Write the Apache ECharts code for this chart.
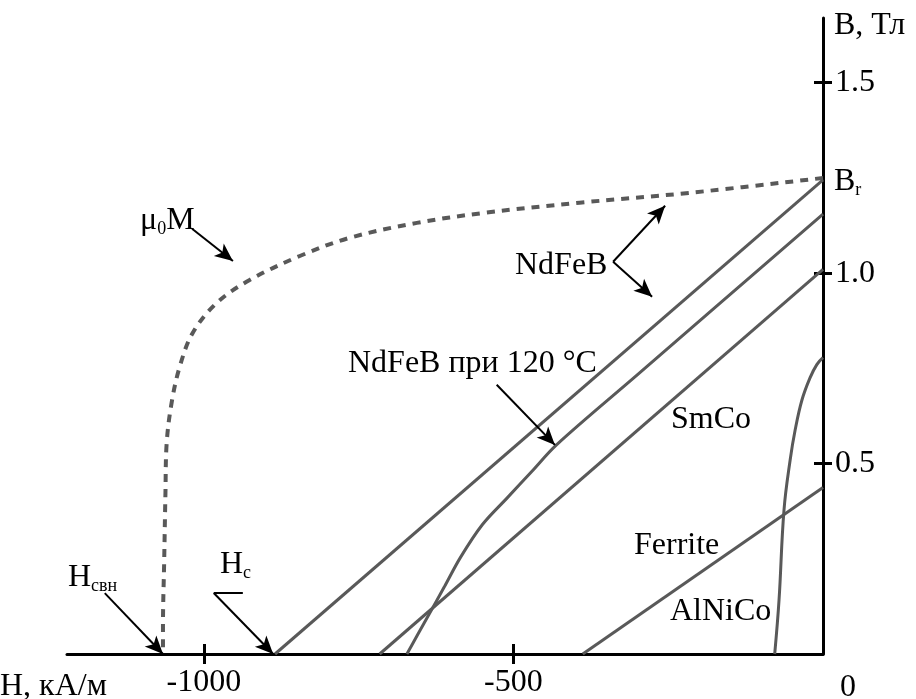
<!DOCTYPE html>
<html>
<head>
<meta charset="utf-8">
<script src="https://cdn.jsdelivr.net/npm/echarts@6/dist/echarts.min.js"></script>
<style>
html,body{margin:0;padding:0;background:#fff;}
#c{width:916px;height:699px;}
</style>
</head>
<body>
<div id="c"></div>
<script>
// ---- data (H in kA/m, B in T) ----
const H_TICKS = [-1000, -500];
const B_TICKS = [0.5, 1.0, 1.5];
const mu0M = [[0,1.25],[-215,1.211],[-393,1.185],[-549,1.158],[-656,1.132],[-764,1.093],[-845,1.045],[-926,0.982],[-979,0.922],[-1018,0.843],[-1039,0.754],[-1052,0.66],[-1060,0.554],[-1062,0.423],[-1064,0.247],[-1066,0.071],[-1066,0]];
const ndfeb = [[-885,0],[0,1.245]];
const ndfeb120 = [[-672,0],[-655,0.05],[-636,0.105],[-612,0.175],[-585,0.255],[-550,0.34],[-510,0.41],[-470,0.48],[-430,0.55],[-300,0.733],[0,1.155]];
const smco = [[-716,0],[0,1.01]];
const ferrite = [[-388,0],[0,0.437]];
const alnico = [[-78,0],[-71,0.142],[-63,0.378],[-53,0.51],[-45,0.588],[-34,0.667],[-21,0.725],[-10,0.76],[0,0.778]];
// annotation arrows: [from, to]
const arrowMu = [[-1019,1.1165],[-953,1.032]];
const arrowNdUp = [[-339,1.03],[-255,1.177]];
const arrowNdDown = [[-339,1.03],[-276,0.938]];
const arrow120 = [[-527,0.707],[-433,0.549]];
const arrowHci = [[-1160,0.16],[-1066,0]];
const barHc = [[-984,0.16],[-937,0.16]];
const arrowHc = [[-984,0.16],[-888,0]];

const FONT = 'Liberation Serif';
const FS = 32;
const chart = echarts.init(document.getElementById('c'), null, {renderer:'canvas'});
const curveColor = '#595959';

function arrow(seg){
  return [{coord:seg[0], symbol:'none'},{coord:seg[1], symbol:'arrow'}];
}
function plain(seg){
  return [{coord:seg[0], symbol:'none'},{coord:seg[1], symbol:'none'}];
}
function curve(name, data, smooth, extra){
  return Object.assign({
    name, type:'line', data, smooth, symbol:'none', silent:true, animation:false,
    lineStyle:{color:curveColor, width:3}, xAxisIndex:0, yAxisIndex:0
  }, extra||{});
}
function txt(x, y, rich, text, align){
  return {type:'text', x, y, silent:true, style:{text, rich, textAlign:align||'left', textVerticalAlign:'middle', fill:'#000', font:FS+'px "'+FONT+'"'}};
}
const mainS = {fontSize:FS, fontFamily:FONT, color:'#000', lineHeight:34, verticalAlign:'middle'};
const subS = {fontSize:18, fontFamily:FONT, color:'#000', lineHeight:18, verticalAlign:'bottom'};

const option = {
  backgroundColor:'#fff',
  animation:false,
  grid:{left:67, right:93, top:18, bottom:45, containLabel:false, outerBoundsMode:'none'},
  xAxis:[
    {type:'value', min:-1221, max:0, position:'bottom',
      axisLine:{show:true, onZero:false, lineStyle:{color:'#000', width:3}},
      axisTick:{show:true, length:10, lineStyle:{color:'#000', width:3}, customValues:H_TICKS},
      axisLabel:{show:true, customValues:H_TICKS, fontSize:FS, fontFamily:FONT, color:'#000', margin:13, formatter:v=>String(v)},
      splitLine:{show:false}},
    {type:'value', min:-1221, max:0, position:'bottom',
      axisLine:{show:false, onZero:false},
      axisTick:{show:true, inside:true, length:10, lineStyle:{color:'#000', width:3}, customValues:H_TICKS},
      axisLabel:{show:false}, splitLine:{show:false}}
  ],
  yAxis:[
    {type:'value', min:0, max:1.67, position:'right',
      axisLine:{show:true, onZero:false, lineStyle:{color:'#000', width:3}},
      axisTick:{show:true, length:9, lineStyle:{color:'#000', width:3}, customValues:B_TICKS},
      axisLabel:{show:true, customValues:B_TICKS, fontSize:FS, fontFamily:FONT, color:'#000', margin:12, formatter:v=>Number(v).toFixed(1)},
      splitLine:{show:false}},
    {type:'value', min:0, max:1.67, position:'right',
      axisLine:{show:false, onZero:false},
      axisTick:{show:true, inside:true, length:9, lineStyle:{color:'#000', width:3}, customValues:B_TICKS},
      axisLabel:{show:false}, splitLine:{show:false}}
  ],
  series:[
    curve('μ0M', mu0M, 0.35, {lineStyle:{color:curveColor, width:4, type:[8,7]}}),
    curve('NdFeB', ndfeb, false),
    curve('NdFeB 120', ndfeb120, 0.35),
    curve('SmCo', smco, false),
    curve('Ferrite', ferrite, false),
    curve('AlNiCo', alnico, 0.4),
    {type:'line', name:'annot', data:[], silent:true, animation:false,
      markLine:{silent:true, animation:false, symbolSize:[12,18], precision:6,
        lineStyle:{color:'#000', width:2, type:'solid'}, label:{show:false}, emphasis:{disabled:true},
        data:[arrow(arrowMu), arrow(arrowNdUp), arrow(arrowNdDown), arrow(arrow120), arrow(arrowHci), plain(barHc), arrow(arrowHc)]}}
  ],
  graphic:[
    txt(140, 221, {a:mainS, s:subS}, '{a|μ}{s|0}{a|M}'),
    txt(515, 266, null, 'NdFeB'),
    txt(348, 364, null, 'NdFeB при 120 °C'),
    txt(671, 420, null, 'SmCo'),
    txt(634, 546, null, 'Ferrite'),
    txt(670, 612, null, 'AlNiCo'),
    txt(68, 578, {a:mainS, s:subS}, '{a|H}{s|свн}'),
    txt(220, 565, {a:mainS, s:subS}, '{a|H}{s|c}'),
    txt(834, 182, {a:mainS, s:subS}, '{a|B}{s|r}'),
    txt(834, 26, null, 'B, Тл'),
    txt(840, 688, null, '0'),
    txt(0, 687, null, 'H, кА/м')
  ]
};
chart.setOption(option);
</script>
</body>
</html>
